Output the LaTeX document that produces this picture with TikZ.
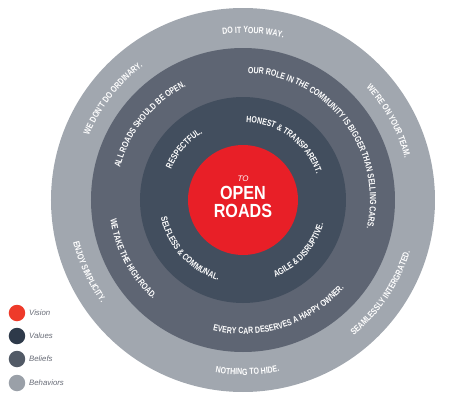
\documentclass[tikz,border=0pt]{standalone}
\usepackage{fontspec}
\setmainfont{Liberation Sans}
\newfontfamily\ringfont[FakeStretch=0.78]{Liberation Sans}
\newfontfamily\titlefont[FakeStretch=0.85]{Liberation Sans}
\usetikzlibrary{decorations.text}

\definecolor{visionred}{HTML}{E81F27}
\definecolor{valuesblue}{HTML}{424E5E}
\definecolor{beliefsgray}{HTML}{5E6573}
\definecolor{behaviorgray}{HTML}{A1A7AF}
\definecolor{keyred}{HTML}{EE3A2A}
\definecolor{keyvalues}{HTML}{2E3A4A}
\definecolor{keybeliefs}{HTML}{525A66}
\definecolor{keybehavior}{HTML}{9AA0A8}
\definecolor{keytext}{HTML}{666A75}

\tikzset{
  ring/.style={circle, inner sep=0pt, draw=none},
  keydot/.style={circle, inner sep=0pt, minimum size=16.5pt},
  keylabel/.style={anchor=west, inner sep=0pt, text=keytext,
    font=\itshape\fontsize{7.8}{8}\selectfont},
  ringlabel/.style={decorate, decoration={text along path, text align=center,
    text color=white, text={|\ringfont\bfseries\fontsize{9}{9}\selectfont|#1}}}
}

\begin{document}
\begin{tikzpicture}[x=1pt, y=1pt]
\useasboundingbox (-243,-200) rectangle (208,200);

% draw rings
\node [ring, fill=behaviorgray, minimum size=384pt] (behaviors) at (0,0) {};
\node [ring, fill=beliefsgray, minimum size=304pt] (beliefs) at (0,0) {};
\node [ring, fill=valuesblue, minimum size=206pt] (values) at (0,0) {};
\node [ring, fill=visionred, minimum size=110pt] (vision) at (0,0) {};

% vision text
\node [text=white, font=\itshape\fontsize{8}{8}\selectfont] (to) at (0,21.5) {TO};
\node [text=white, font=\titlefont\bfseries\fontsize{19}{19}\selectfont] (open) at (0,7.5) {OPEN};
\node [text=white, font=\titlefont\bfseries\fontsize{19}{19}\selectfont] (roads) at (0,-10.5) {ROADS};

% behaviors
\path [ringlabel={DO IT YOUR WAY.}] (156.5:167pt) arc [start angle=156.5, end angle=16.5, radius=167pt];
\path [ringlabel={WE'RE ON YOUR TEAM.}] (98.5:167pt) arc [start angle=98.5, end angle=-41.5, radius=167pt];
\path [ringlabel={SEAMLESSLY INTERGRATED.}] (-104:175pt) arc [start angle=-104, end angle=36, radius=175pt];
\path [ringlabel={NOTHING TO HIDE.}] (201.5:175pt) arc [start angle=201.5, end angle=341.5, radius=175pt];
\path [ringlabel={ENJOY SIMPLICITY.}] (135:175pt) arc [start angle=135, end angle=275, radius=175pt];
\path [ringlabel={WE DON'T DO ORDINARY.}] (212:167pt) arc [start angle=212, end angle=72, radius=167pt];

% beliefs
\path [ringlabel={OUR ROLE IN THE COMMUNITY IS BIGGER THAN SELLING CARS.}] (137.5:127pt) arc [start angle=137.5, end angle=-62.5, radius=127pt];
\path [ringlabel={ALL ROADS SHOULD BE OPEN.}] (211:127pt) arc [start angle=211, end angle=71, radius=127pt];
\path [ringlabel={WE TAKE THE HIGH ROAD.}] (138:134pt) arc [start angle=138, end angle=278, radius=134pt];
\path [ringlabel={EVERY CAR DESERVES A HAPPY OWNER.}] (208:134pt) arc [start angle=208, end angle=368, radius=134pt];

% values
\path [ringlabel={RESPECTFUL.}] (209:78pt) arc [start angle=209, end angle=69, radius=78pt];
\path [ringlabel={HONEST {\&} TRANSPARENT.}] (133.5:78pt) arc [start angle=133.5, end angle=-26.5, radius=78pt];
\path [ringlabel={SELFLESS {\&} COMMUNAL.}] (142.5:84pt) arc [start angle=142.5, end angle=302.5, radius=84pt];
\path [ringlabel={AGILE {\&} DISRUPTIVE.}] (248:84pt) arc [start angle=248, end angle=388, radius=84pt];

% legend
\node [keydot, fill=keyred] (keyvision) at (-226,-113) {};
\node [keydot, fill=keyvalues] (keyvalues) at (-226,-136) {};
\node [keydot, fill=keybeliefs] (keybeliefs) at (-226,-159) {};
\node [keydot, fill=keybehavior] (keybehaviors) at (-226,-183) {};
\node [keylabel] (visionlabel) at (-214,-113) {Vision};
\node [keylabel] (valueslabel) at (-214,-136) {Values};
\node [keylabel] (beliefslabel) at (-214,-159) {Beliefs};
\node [keylabel] (behaviorslabel) at (-214,-183) {Behaviors};

\end{tikzpicture}
\end{document}
